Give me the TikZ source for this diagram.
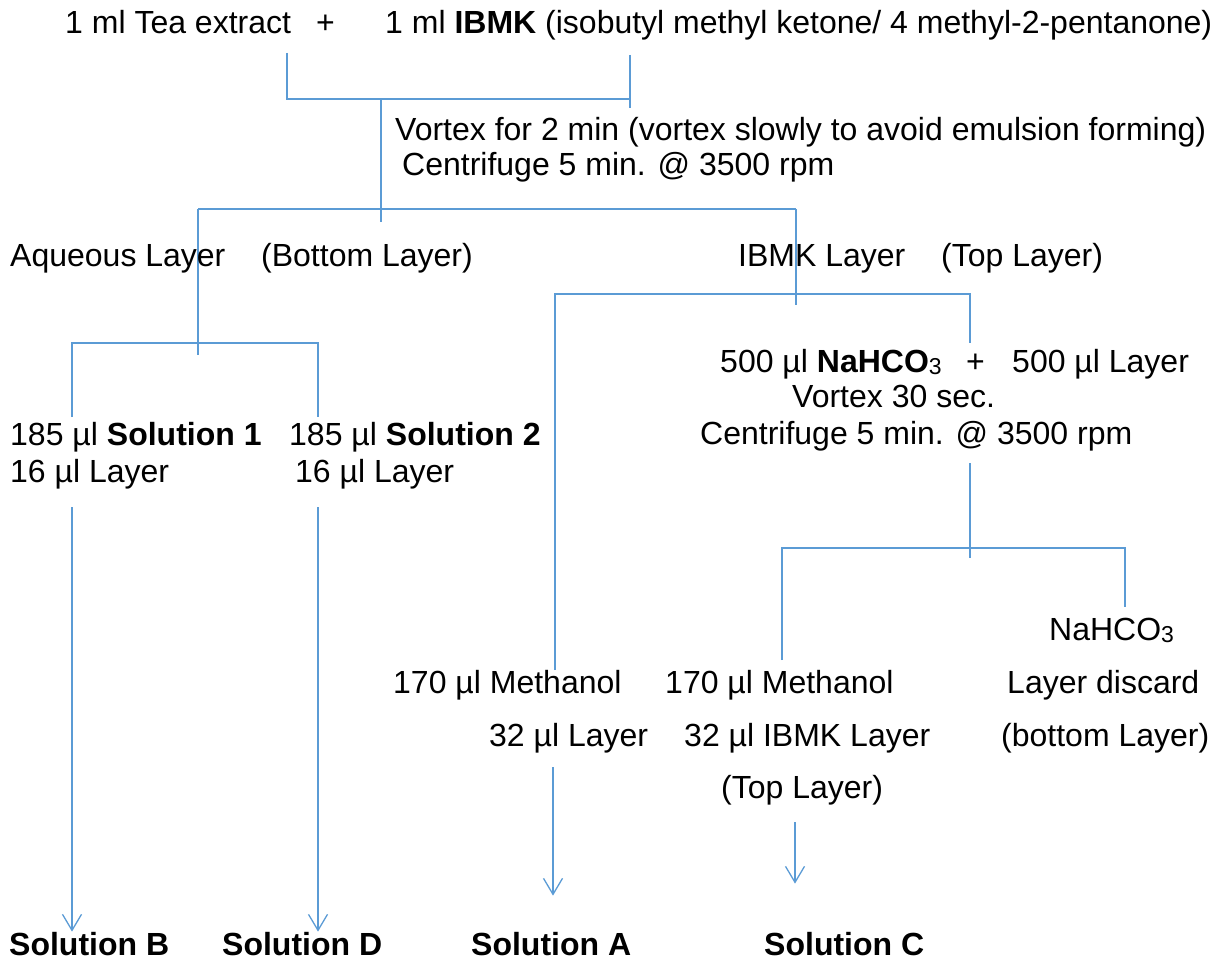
\documentclass[tikz,border=0pt]{standalone}
\usepackage{fontspec}
\setmainfont{Liberation Sans}
\usetikzlibrary{arrows.meta, calc}
\definecolor{linkblue}{RGB}{91,155,213}
\newcommand{\lowsub}[1]{\raisebox{-0.12ex}{\fontsize{23}{23}\selectfont #1}}

\begin{document}
\begin{tikzpicture}[x=1pt, y=-1pt,
    every node/.style={font=\fontsize{32}{38}\selectfont},
    lbl/.style={anchor=base west, inner sep=0pt},
    link/.style={draw=linkblue, line width=1.3pt},
    flow/.style={link, -{Straight Barb[length=16pt, width=19pt]}}]
    \useasboundingbox (0, 0) rectangle (1220, 960);

    % mixing
    \node[lbl] (tea) at (65, 34) {1 ml Tea extract};
    \node[lbl] (plus) at (316, 34) {+};
    \node[lbl] (ibmk) at (385, 34) {1 ml \textbf{IBMK} (isobutyl methyl ketone/ 4 methyl-2-pentanone)};
    \coordinate (mixl) at (287, 53);
    \coordinate (mixr) at (630, 55);
    \coordinate (mixj) at (381, 99);
    \draw[link] (mixl) |- (mixr |- mixj);
    \draw[link] (mixr) -- ++(0, 53);
    \draw[link] (mixj) -- ++(0, 123);
    \node[lbl] (vortex) at (395, 141) {Vortex for 2 min (vortex slowly to avoid emulsion forming)};
    \node[lbl] (centri) at (402, 176) {Centrifuge 5 min. @ 3500 rpm};

    % two layers
    \coordinate (splitl) at (198, 209);
    \coordinate (splitr) at (796, 209);
    \draw[link] (splitl) -- (splitr);
    \draw[link] (splitl) -- ++(0, 146);
    \draw[link] (splitr) -- ++(0, 96);
    \node[lbl] (aq) at (10, 266) {Aqueous Layer};
    \node[lbl] (aqbot) at (261, 266) {(Bottom Layer)};
    \node[lbl] (ib) at (738, 266) {IBMK Layer};
    \node[lbl] (ibtop) at (941, 266) {(Top Layer)};

    % aqueous branch
    \coordinate (aql) at (72, 343);
    \coordinate (aqr) at (318, 343);
    \draw[link] ($(aql) + (0, 74)$) -- (aql) -- (aqr) -- ++(0, 74);
    \node[lbl] (sol1) at (10, 445) {185 µl \textbf{Solution 1}};
    \node[lbl] (sol2) at (289, 445) {185 µl \textbf{Solution 2}};
    \node[lbl] (lay1) at (10, 482) {16 µl Layer};
    \node[lbl] (lay2) at (295, 482) {16 µl Layer};

    % ibmk branch
    \coordinate (ibl) at (555, 294);
    \coordinate (ibr) at (970, 294);
    \draw[link] ($(ibl) + (0, 376)$) -- (ibl) -- (ibr) -- ++(0, 49);
    \node[lbl] (naadd) at (720, 372) {500 µl \textbf{NaHCO}\lowsub{3}};
    \node[lbl] (plustwo) at (966, 372) {+};
    \node[lbl] (layadd) at (1012, 372) {500 µl Layer};
    \node[lbl] (vort2) at (792, 407) {Vortex 30 sec.};
    \node[lbl] (centri2) at (700, 444) {Centrifuge 5 min. @ 3500 rpm};
    \coordinate (sep) at (970, 463);
    \draw[link] (sep) -- ++(0, 95);
    \coordinate (sepl) at (782, 548);
    \coordinate (sepr) at (1125, 548);
    \draw[link] ($(sepl) + (0, 112)$) -- (sepl) -- (sepr) -- ++(0, 59);

    \node[lbl] (nahco) at (1049, 640) {NaHCO\lowsub{3}};
    \node[lbl] (meth1) at (393, 693) {170 µl Methanol};
    \node[lbl] (meth2) at (665, 693) {170 µl Methanol};
    \node[lbl] (discard) at (1007, 693) {Layer discard};
    \node[lbl] (lay3) at (489, 746) {32 µl Layer};
    \node[lbl] (lay4) at (684, 746) {32 µl IBMK Layer};
    \node[lbl] (bot) at (1001, 746) {(bottom Layer)};
    \node[lbl] (top) at (721, 798) {(Top Layer)};

    % results
    \node[lbl] (solb) at (9, 955) {\textbf{Solution B}};
    \node[lbl] (sold) at (222, 955) {\textbf{Solution D}};
    \node[lbl] (sola) at (471, 955) {\textbf{Solution A}};
    \node[lbl] (solc) at (764, 955) {\textbf{Solution C}};
    \coordinate (tob) at (72, 507);
    \coordinate (tod) at (318, 507);
    \coordinate (toa) at (553, 767);
    \coordinate (toc) at (795, 822);
    \draw[flow] (tob) -- (tob |- solb.north);
    \draw[flow] (tod) -- (tod |- sold.north);
    \draw[flow] (toa) -- ($(toa |- sola.north) + (0, -36)$);
    \draw[flow] (toc) -- ($(toc |- solc.north) + (0, -48)$);
\end{tikzpicture}
\end{document}
